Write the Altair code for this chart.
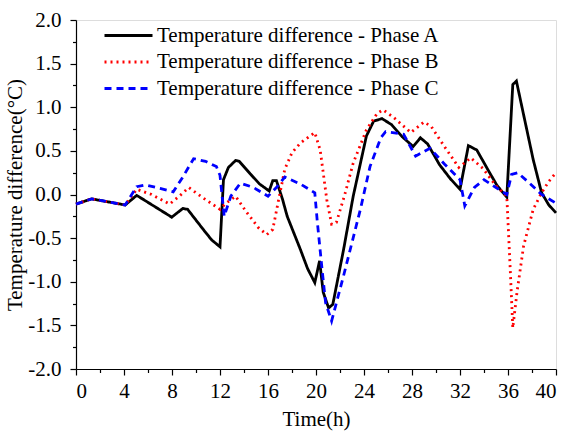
import altair as alt
import pandas as pd

series_names = ["Temperature difference - Phase A",
                "Temperature difference - Phase B",
                "Temperature difference - Phase C"]

a_t = [0, 1.3, 4.1, 5.06, 7.98, 8.9, 9.3, 10.6, 11.3, 12.0, 12.29, 12.7, 13.3, 13.6, 14.5, 15.3,
       16.1, 16.4, 16.7, 17.2, 17.6, 18.7, 19.3, 19.9, 20.3, 20.6, 21.05, 21.4, 22.3, 23.1, 24.2,
       24.8, 25.5, 26.3, 27.2, 28.1, 28.7, 29.3, 30.3, 31.2, 32.0, 32.7, 33.4, 34.3, 35.1, 35.9,
       36.4, 36.7, 37.4, 38.1, 38.8, 39.4, 40.0]
a_v = [-0.11, -0.05, -0.12, -0.01, -0.26, -0.16, -0.17, -0.40, -0.52, -0.60, 0.17, 0.31, 0.39, 0.38,
       0.24, 0.12, 0.04, 0.16, 0.16, -0.05, -0.25, -0.63, -0.85, -1.01, -0.76, -1.12, -1.30, -1.26,
       -0.63, -0.02, 0.67, 0.84, 0.87, 0.80, 0.66, 0.55, 0.65, 0.58, 0.34, 0.18, 0.06, 0.56, 0.51,
       0.29, 0.10, -0.03, 1.26, 1.30, 0.85, 0.40, 0.02, -0.12, -0.21]

b_t = [0, 1.3, 4.1, 5.06, 6.3, 7.8, 8.6, 9.4, 10.6, 12.0, 12.5, 13.3, 14.2, 15.2, 15.9, 16.4, 16.9,
       17.4, 18.0, 18.7, 19.9, 20.35, 20.9, 21.3, 21.7, 22.4, 23.1, 24.2, 25.1, 25.6, 26.5, 27.9,
       29.0, 29.6, 30.7, 31.9, 32.9, 33.9, 35.0, 35.9, 36.2, 36.4, 36.75, 37.3, 38.1, 38.8, 39.4, 40.0]
b_v = [-0.11, -0.05, -0.12, 0.06, 0.0, -0.11, -0.02, 0.08, -0.04, -0.17, -0.10, -0.02, -0.20, -0.38,
       -0.46, -0.40, -0.05, 0.29, 0.48, 0.59, 0.71, 0.51, -0.06, -0.34, -0.32, 0.0, 0.36, 0.74, 0.93,
       0.97, 0.88, 0.71, 0.83, 0.78, 0.55, 0.31, 0.42, 0.30, 0.10, -0.02, -0.90, -1.53, -1.12, -0.59,
       -0.17, 0.02, 0.15, 0.25]

c_t = [0, 1.3, 4.1, 5.06, 5.75, 7.0, 8.1, 8.9, 9.8, 10.8, 11.7, 12.0, 12.35, 12.9, 13.7, 14.8, 16.0,
       16.7, 17.4, 18.7, 19.9, 20.1, 20.5, 20.8, 21.3, 22.3, 23.0, 23.7, 24.5, 25.4, 25.8, 27.3, 28.3,
       29.5, 30.7, 32.0, 32.4, 33.2, 34.0, 35.0, 35.9, 36.3, 36.8, 37.8, 38.8, 40.0]
c_v = [-0.11, -0.05, -0.12, 0.09, 0.11, 0.07, 0.03, 0.20, 0.41, 0.38, 0.32, 0.22, -0.25, -0.02, 0.13,
       0.08, -0.02, 0.08, 0.20, 0.12, 0.02, -0.30, -0.85, -1.24, -1.45, -0.93, -0.55, -0.17, 0.32,
       0.65, 0.72, 0.69, 0.44, 0.53, 0.35, 0.17, -0.13, 0.08, 0.17, 0.08, 0.0, 0.23, 0.25, 0.13, 0.0,
       -0.10]

x_ticks = list(range(0, 41, 2))
y_ticks = [i * 0.25 for i in range(-8, 9)]

rows = []
for name, ts, vs in zip(series_names, [a_t, b_t, c_t], [a_v, b_v, c_v]):
    for i, (t, v) in enumerate(zip(ts, vs)):
        rows.append({"series": name, "t": t, "v": v, "i": i})
df = pd.DataFrame(rows)

FONT = "Liberation Serif"

x_axis = alt.Axis(
    values=x_ticks,
    labelExpr="datum.value % 4 === 0 ? datum.label : ''",
    tickSize={"condition": {"test": "datum.value % 4 !== 0", "value": 3.5}, "value": 6},
    grid=False, domainColor="black", tickColor="black", domainWidth=1.2, tickWidth=1.2,
    labelFont=FONT, labelFontSize=21, labelColor="black", labelPadding=5,
    title="Time(h)", titleFont=FONT, titleFontSize=21, titleFontWeight="normal",
    titleColor="black", titlePadding=7,
)
y_axis = alt.Axis(
    values=y_ticks,
    labelExpr="abs(datum.value * 2 - round(datum.value * 2)) > 0.01 ? '' : replace(format(datum.value, '.1f'), '\u2212', '-')",
    tickSize={"condition": {"test": "abs(datum.value * 2 - round(datum.value * 2)) > 0.01", "value": 3.5}, "value": 6},
    grid=False, domainColor="black", tickColor="black", domainWidth=1.2, tickWidth=1.2,
    labelFont=FONT, labelFontSize=21, labelColor="black", labelPadding=9,
    title="Temperature difference(\u00b0C)", titleFont=FONT, titleFontSize=21,
    titleFontWeight="normal", titleColor="black", titlePadding=2,
)

legend = alt.Legend(
    title=None, orient="none", legendX=42, legendY=5,
    symbolType="M-4,0H4", symbolSize=144, symbolStrokeWidth=2.8,
    labelFont=FONT, labelFontSize=21, labelColor="black", labelOffset=18,
    rowPadding=4.5, labelLimit=400,
)

chart = alt.Chart(df).mark_line(strokeWidth=2.8).encode(
    x=alt.X("t:Q", scale=alt.Scale(domain=[0, 40], nice=False, zero=False), axis=x_axis),
    y=alt.Y("v:Q", scale=alt.Scale(domain=[-2, 2], nice=False), axis=y_axis),
    color=alt.Color("series:N", scale=alt.Scale(domain=series_names,
                                                range=["black", "#ff0000", "#0000ff"]),
                    legend=legend),
    strokeDash=alt.StrokeDash("series:N", scale=alt.Scale(domain=series_names,
                                                          range=[[1, 0], [2, 4], [7, 5]]),
                              legend=legend),
    order="i:Q",
).properties(
    width=480, height=349,
    autosize=alt.AutoSizeParams(type="none"),
    padding={"left": 76, "top": 20, "right": 10, "bottom": 63},
).configure_view(stroke=None).configure(background="white")

chart.save("out.html", embed_options={"renderer": "svg", "actions": False})
